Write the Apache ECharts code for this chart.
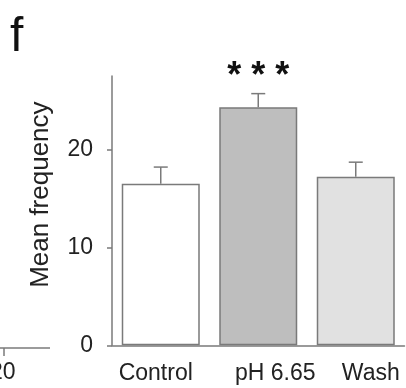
<!DOCTYPE html>
<html>
<head>
<meta charset="utf-8">
<script src="https://cdn.jsdelivr.net/npm/echarts@6/dist/echarts.min.js"></script>
<style>
  html, body { margin: 0; padding: 0; background: #fff; }
  #chart { width: 406px; height: 388px; }
</style>
</head>
<body>
<div id="chart"></div>
<script>
// data
const categories = ['Control', 'pH 6.65', 'Wash'];
const means = [16.5, 24.3, 17.2];
const errors = [1.7, 1.4, 1.5];
const sigLabels = ['', '* * *', ''];
const yTicks = [0, 10, 20];

// small label nudges to mimic the original placement
const labelShift = [-5, 17, 15];

const FONT = '"Liberation Sans", Arial, sans-serif';
const GREY = '#7a7a7a';
const fills = ['#ffffff', '#bebebe', '#e1e1e1'];

let myChart = echarts.init(document.getElementById('chart'), null, {renderer: 'canvas'});
myChart.setOption({
  animation: false,
  backgroundColor: '#fff',
  grid: {
    left: 112,
    right: 1.5,
    top: 76,
    bottom: 42.7
  },
  xAxis: {
    type: 'category',
    data: categories.map((c, i) => ({
      value: c,
      textStyle: {
        padding: labelShift[i] > 0 ? [0, 0, 0, labelShift[i] * 2] : [0, -labelShift[i] * 2, 0, 0]
      }
    })),
    axisLine: {lineStyle: {color: GREY, width: 1.5}},
    axisTick: {show: false},
    axisLabel: {
      interval: 0,
      hideOverlap: false,
      color: '#222',
      fontFamily: FONT,
      fontSize: 23,
      margin: 17
    }
  },
  yAxis: {
    type: 'value',
    min: 0,
    max: 27.5,
    interval: 10,
    name: 'Mean frequency',
    nameLocation: 'middle',
    nameGap: 58,
    nameTextStyle: {
      color: '#222',
      fontFamily: FONT,
      fontSize: 26,
      padding: [0, 0, 0, 32]
    },
    splitLine: {show: false},
    axisLine: {show: true, lineStyle: {color: GREY, width: 1.5}},
    axisTick: {show: true, length: 5, customValues: yTicks, lineStyle: {color: GREY, width: 1.5}},
    axisLabel: {
      customValues: yTicks,
      color: '#222',
      fontFamily: FONT,
      fontSize: 23,
      margin: 19
    }
  },
  graphic: [
    {
      type: 'text',
      left: 10,
      top: 14,
      style: {text: 'f', font: '48px ' + FONT, fill: '#111'}
    },
    // edge of the neighbouring panel
    {
      type: 'line',
      shape: {x1: 0, y1: 348, x2: 50, y2: 348},
      style: {stroke: GREY, lineWidth: 1.5}
    },
    {
      type: 'line',
      shape: {x1: 4, y1: 348, x2: 4, y2: 356},
      style: {stroke: GREY, lineWidth: 1.5}
    },
    {
      type: 'text',
      x: -10,
      y: 361,
      style: {text: '20', font: '23px ' + FONT, fill: '#222'}
    }
  ],
  series: [
    {
      type: 'bar',
      barCategoryGap: '20%',
      data: means.map((v, i) => ({
        value: v,
        itemStyle: {color: fills[i], borderColor: GREY, borderWidth: 1.5}
      })),
      label: {show: false},
      z: 2
    },
    {
      type: 'custom',
      data: means.map((v, i) => [i, v, errors[i]]),
      renderItem: function (params, api) {
        const i = api.value(0);
        const base = api.coord([i, api.value(1)]);
        const top = api.coord([i, api.value(1) + api.value(2)]);
        const half = 7;
        const children = [
          {type: 'line', shape: {x1: base[0], y1: base[1], x2: top[0], y2: top[1]},
           style: {stroke: GREY, lineWidth: 1.5}},
          {type: 'line', shape: {x1: top[0] - half, y1: top[1], x2: top[0] + half, y2: top[1]},
           style: {stroke: GREY, lineWidth: 1.5}}
        ];
        const sig = sigLabels[params.dataIndex];
        if (sig) {
          children.push({
            type: 'text',
            style: {
              text: sig, x: top[0], y: top[1] + 1,
              align: 'center', verticalAlign: 'bottom',
              font: 'bold 36px ' + FONT, fill: '#111'
            }
          });
        }
        return {type: 'group', children: children};
      },
      z: 3
    }
  ]
});

window.addEventListener('resize', function () {
  myChart.resize();
});
</script>
</body>
</html>
